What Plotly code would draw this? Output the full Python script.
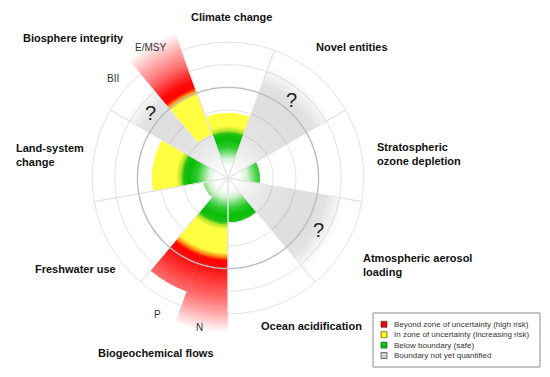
import numpy as np
import plotly.graph_objects as go

W, H = 550, 377
OFF = 8  # page body margin of the browser
FW, FH = W - OFF, H - OFF

# ---------------- data ----------------
categories = ["Climate change", "Novel entities", "Stratospheric ozone depletion",
              "Atmospheric aerosol loading", "Ocean acidification",
              "Biogeochemical flows: N", "Biogeochemical flows: P", "Freshwater use",
              "Land-system change", "Biosphere integrity: BII", "Biosphere integrity: E/MSY"]
theta_center = [90, 50, 10, 330, 290, 260, 240, 210, 170, 140, 120]
sector_width = [40, 40, 40, 40, 40, 20, 20, 40, 40, 20, 20]
status = ["uncertain", "unknown", "safe", "unknown", "safe", "high", "high",
          "safe", "uncertain", "unknown", "high"]
extent = [2.86, 5.3, 1.41, 5.3, 1.95, 6.8, 5.33, 1.1, 3.35, 5.3, 6.8]
colour_from = [0, 0, 0, 0, 0, 0, 0, 0, 0, 0, 2.05]
red_from = [0, 0, 0, 0, 0, 3.35, 3.35, 0, 0, 0, 3.95]

group_center = [90, 50, 10, 330, 290, 250, 210, 170, 130]
group_width = 40
grid_radii = [2, 3, 5, 6]
boundary_ring = 4
outer_ring = 6

legend_labels = ["Beyond zone of uncertainty (high risk)",
                 "In zone of uncertainty (increasing risk)",
                 "Below boundary (safe)",
                 "Boundary not yet quantified"]
legend_colors = ["#ee0000", "#ffff00", "#00cc00", "#cccccc"]

# ---------------- colour helpers ----------------
def h2rgb(h):
    h = h.lstrip("#")
    return np.array([int(h[i:i + 2], 16) for i in (0, 2, 4)], float)

def interp(stops, r):
    rs = [s[0] for s in stops]
    cols = [h2rgb(s[1]) for s in stops]
    if r <= rs[0]:
        c = cols[0]
    elif r >= rs[-1]:
        c = cols[-1]
    else:
        i = np.searchsorted(rs, r) - 1
        t = (r - rs[i]) / (rs[i + 1] - rs[i])
        c = cols[i] * (1 - t) + cols[i + 1] * t
    return "rgb(%d,%d,%d)" % tuple(np.round(c))

YEL = "#ffff40"
inner_stops = [(0, "#ffffff"), (0.5, "#ffffff"), (0.85, "#d6f3d6"), (1.15, "#6ddc6d"),
               (1.4, "#26c926"), (1.7, "#08bd08"), (1.95, "#1cbf10"), (2.1, "#b4e428"),
               (2.3, YEL)]

def colour_at(r, u):
    if r < 2.3 or u == 0:
        return interp(inner_stops, r)
    stops = [(2.3, YEL), (u - 0.05, YEL), (u + 0.15, "#ff8a10"), (u + 0.3, "#ff0000"),
             (u + 0.6, "#ff0a0a"), (5.3, "#ff6a6a"), (6.0, "#ffaaaa"), (6.85, "#ffffff")]
    return interp(stops, r)

grey_stops = [(0, 0.0), (0.5, 0.02), (1.2, 0.07), (2.0, 0.11), (3.5, 0.135),
              (4.4, 0.12), (4.9, 0.05), (5.3, 0.0)]

def grey_at(r):
    a = np.interp(r, [s[0] for s in grey_stops], [s[1] for s in grey_stops])
    return "rgba(0,0,0,%.3f)" % a

STEP = 0.04

fig = go.Figure()

# radial spokes
sp_r, sp_t = [], []
for gc in group_center:
    for b in (gc - group_width / 2, gc + group_width / 2):
        sp_r += [0, outer_ring, None]
        sp_t += [b % 360, b % 360, None]
fig.add_trace(go.Scatterpolar(r=sp_r, theta=sp_t, mode="lines",
                              line=dict(color="#e3e3e3", width=1),
                              hoverinfo="skip", showlegend=False))
# emphasised ring
ring_t = np.linspace(0, 360, 361)
fig.add_trace(go.Scatterpolar(r=[boundary_ring] * len(ring_t), theta=ring_t, mode="lines",
                              line=dict(color="#bcbcbc", width=1.4),
                              hoverinfo="skip", showlegend=False))

for name, tc, w, st, ext, c0, u in zip(categories, theta_center, sector_width,
                                      status, extent, colour_from, red_from):
    bases, thick, cols = [], [], []
    if st == "unknown":
        for r in np.arange(0, ext, STEP):
            bases.append(r); thick.append(min(STEP, ext - r)); cols.append(grey_at(r + STEP / 2))
    else:
        if c0 > 0:
            for r in np.arange(0, c0, STEP):
                bases.append(r); thick.append(min(STEP, c0 - r)); cols.append(grey_at(r + STEP / 2))
        for r in np.arange(c0, ext, STEP):
            bases.append(r); thick.append(min(STEP * 1.7, ext - r))
            cols.append(colour_at(r + STEP / 2, u) if c0 == 0 else
                        (YEL if r < 2.3 else colour_at(r + STEP / 2, u)))
    n = len(bases)
    fig.add_trace(go.Barpolar(r=thick, base=bases, theta=[tc] * n, width=[w] * n,
                              marker=dict(color=cols, line=dict(width=0)),
                              name=name, hoverinfo="skip", showlegend=False))

def px(x):
    return (x - OFF) / FW

def py(y):
    return 1 - (y - OFF) / FH

R_MAX = 6.8
rad_px = 154
cx, cy = 228, 178
fig.update_layout(
    width=FW, height=FH, margin=dict(l=0, r=0, t=0, b=0),
    paper_bgcolor="white", plot_bgcolor="white",
    polar=dict(
        domain=dict(x=[px(cx - rad_px), px(cx + rad_px)],
                    y=[py(cy + rad_px), py(cy - rad_px)]),
        bgcolor="white", barmode="overlay", bargap=0,
        radialaxis=dict(range=[0, R_MAX], tickvals=grid_radii, showticklabels=False,
                        ticks="", showline=False, gridcolor="#e3e3e3", gridwidth=1),
        angularaxis=dict(showgrid=False, showline=False, showticklabels=False, ticks="",
                         rotation=0, direction="counterclockwise"),
    ),
)

FONT = "Liberation Sans, Arial, sans-serif"

def ann(text, x, y, size=11, xanchor="center", align="center", color="#111111"):
    fig.add_annotation(text=text, x=px(x), y=py(y), xref="paper", yref="paper",
                       showarrow=False, xanchor=xanchor, yanchor="middle", align=align,
                       font=dict(family=FONT, size=size, color=color))

ann("<b>Climate change</b>", 231, 17)
ann("<b>Biosphere integrity</b>", 73, 38)
ann("E/MSY", 150, 47, size=10, color="#333333")
ann("BII", 113, 78, size=10, color="#333333")
ann("<b>Novel entities</b>", 352, 47)
ann("<b>Stratospheric<br>ozone depletion</b>", 375, 154, xanchor="left", align="left")
ann("<b>Land-system<br>change</b>", 14, 155, xanchor="left", align="left")
ann("<b>Atmospheric aerosol<br>loading</b>", 361, 265, xanchor="left", align="left")
ann("<b>Freshwater use</b>", 75, 269)
ann("<b>Ocean acidification</b>", 259, 326, xanchor="left", align="left")
ann("<b>Biogeochemical flows</b>", 156, 353)
ann("P", 157, 314, size=10, color="#333333")
ann("N", 199, 327, size=10, color="#333333")
for qx, qy in [(150, 113), (291, 100), (318, 230)]:
    ann("?", qx, qy, size=20, color="#222222")

# legend box
def rect(x0, y0, x1, y1, **kw):
    fig.add_shape(type="rect", xref="paper", yref="paper",
                  x0=px(x0), x1=px(x1), y0=py(y1), y1=py(y0), **kw)

rect(373, 313, 540, 367, line=dict(color="#8c8c8c", width=1), fillcolor="white")
for i, (lab, col) in enumerate(zip(legend_labels, legend_colors)):
    yc = 324.3 + i * 10.4
    rect(381, yc - 3, 387, yc + 3, line=dict(color="#444444", width=0.7), fillcolor=col)
    ann(lab, 392, yc, size=8, xanchor="left", align="left", color="#333333")

fig.write_html("out.html")
